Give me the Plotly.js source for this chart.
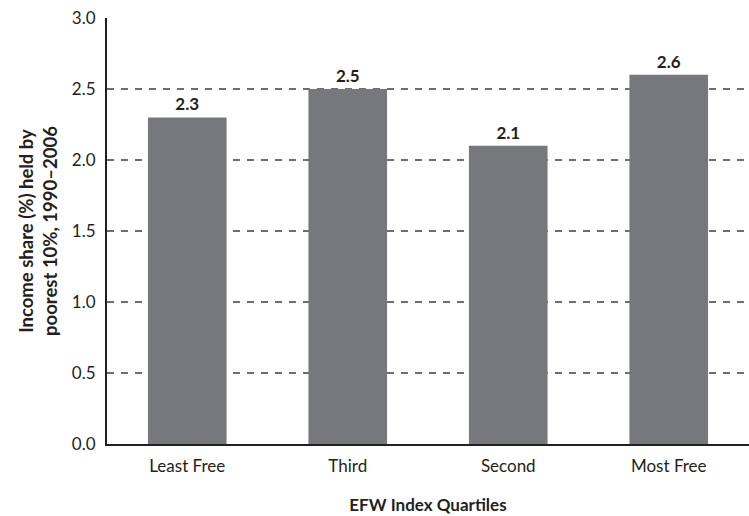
<!DOCTYPE html>
<html>
<head>
<meta charset="utf-8">
<script src="https://cdn.plot.ly/plotly-3.0.1.min.js"></script>
<style>html,body{margin:0;padding:0;background:#fff;}#chart{width:749px;height:516px;}</style>
</head>
<body>
<div id="chart"></div>
<script>
const categories = ["Least Free", "Third", "Second", "Most Free"];
const values = [2.3, 2.5, 2.1, 2.6];
const valueLabels = ["2.3", "2.5", "2.1", "2.6"];
const yTickVals = [0, 0.5, 1.0, 1.5, 2.0, 2.5, 3.0];
const yTickText = ["0.0", "0.5", "1.0", "1.5", "2.0", "2.5", "3.0"];

const FONT = "Lato, Open Sans, sans-serif";

const trace = {
  type: "bar",
  x: categories,
  y: values,
  text: valueLabels,
  textposition: "outside",
  cliponaxis: false,
  textfont: {family: FONT, size: 17, color: "#231f20", weight: "bold"},
  marker: {color: "#77787b", line: {width: 0}},
  hoverinfo: "none"
};

const layout = {
  width: 749,
  height: 516,
  margin: {l: 107, r: 0, t: 18, b: 72},
  paper_bgcolor: "#ffffff",
  plot_bgcolor: "#ffffff",
  showlegend: false,
  bargap: 0.51,
  font: {family: FONT, size: 17, color: "#231f20"},
  xaxis: {
    type: "category",
    range: [-0.5, 3.5],
    showline: true,
    linecolor: "#231f20",
    linewidth: 2,
    showgrid: false,
    ticks: "",
    ticklabelstandoff: 6,
    tickfont: {family: FONT, size: 17, color: "#231f20"},
    title: {text: "<b>EFW Index Quartiles</b>", font: {family: FONT, size: 17, color: "#231f20"}, standoff: 24},
    automargin: false,
    fixedrange: true
  },
  yaxis: {
    range: [0, 3.0],
    tickvals: yTickVals,
    ticktext: yTickText,
    showline: true,
    linecolor: "#231f20",
    linewidth: 2,
    showgrid: true,
    gridcolor: "#6d6e71",
    gridwidth: 1.3,
    griddash: "7px,7px",
    zeroline: false,
    ticks: "",
    ticklabelstandoff: 6,
    tickfont: {family: FONT, size: 17, color: "#231f20"},
    title: {text: "<b>Income share (%) held by<br>poorest 10%, 1990–2006</b>", font: {family: FONT, size: 18.5, color: "#231f20"}, standoff: 9},
    automargin: false,
    fixedrange: true
  }
};

Plotly.newPlot("chart", [trace], layout, {displayModeBar: false, staticPlot: true});
</script>
</body>
</html>
